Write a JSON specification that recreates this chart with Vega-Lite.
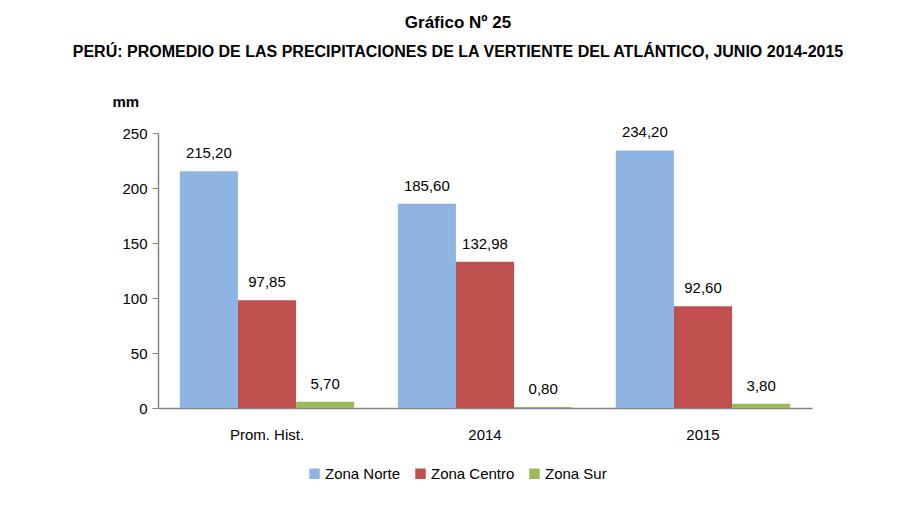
{
  "$schema": "https://vega.github.io/schema/vega-lite/v6.json",
  "autosize": "none",
  "width": 654,
  "height": 275,
  "padding": {"left": 158, "top": 133, "right": 105, "bottom": 116},
  "background": "white",
  "title": {
    "text": "Gráfico Nº 25",
    "subtitle": "PERÚ: PROMEDIO DE LAS PRECIPITACIONES DE LA VERTIENTE DEL ATLÁNTICO, JUNIO 2014-2015",
    "anchor": "middle",
    "dx": -27,
    "offset": 33,
    "fontSize": 17,
    "fontWeight": "bold",
    "subtitleFontSize": 16,
    "subtitleFontWeight": "bold",
    "subtitleColor": "black",
    "color": "black",
    "subtitlePadding": 12
  },
  "config": {
    "font": "Liberation Sans",
    "view": {"stroke": null},
    "locale": {"number": {"decimal": ",", "thousands": ".", "grouping": [3], "currency": ["", ""]}}
  },
  "data": {
    "values": [
      {"periodo": "Prom. Hist.", "zona": "Zona Norte", "valor": 215.2},
      {"periodo": "Prom. Hist.", "zona": "Zona Centro", "valor": 97.85},
      {"periodo": "Prom. Hist.", "zona": "Zona Sur", "valor": 5.7},
      {"periodo": "2014", "zona": "Zona Norte", "valor": 185.6},
      {"periodo": "2014", "zona": "Zona Centro", "valor": 132.98},
      {"periodo": "2014", "zona": "Zona Sur", "valor": 0.8},
      {"periodo": "2015", "zona": "Zona Norte", "valor": 234.2},
      {"periodo": "2015", "zona": "Zona Centro", "valor": 92.6},
      {"periodo": "2015", "zona": "Zona Sur", "valor": 3.8}
    ]
  },
  "encoding": {
    "x": {
      "field": "periodo", "type": "nominal", "sort": ["Prom. Hist.", "2014", "2015"],
      "scale": {"paddingInner": 0.2, "paddingOuter": 0.1},
      "axis": {"title": null, "labelAngle": 0, "ticks": false, "domainColor": "#868686", "domainWidth": 1.5, "labelFontSize": 15, "labelPadding": 19, "labelColor": "black"}
    },
    "xOffset": {"field": "zona", "type": "nominal", "sort": ["Zona Norte", "Zona Centro", "Zona Sur"], "scale": {"paddingInner": 0, "paddingOuter": 0}},
    "y": {
      "field": "valor", "type": "quantitative",
      "scale": {"domain": [0, 250], "nice": false},
      "axis": {"title": "mm", "titleAngle": 0, "titleX": -46, "titleY": -24, "titleFontSize": 15, "titleFontWeight": "bold", "titleColor": "black", "titleAlign": "left", "values": [0, 50, 100, 150, 200, 250], "grid": false, "domainColor": "#868686", "domainWidth": 1.5, "tickColor": "#868686", "tickSize": 6, "labelFontSize": 15, "labelPadding": 5, "labelColor": "black"}
    }
  },
  "layer": [
    {
      "mark": {"type": "bar"},
      "encoding": {
        "color": {
          "field": "zona", "type": "nominal", "sort": ["Zona Norte", "Zona Centro", "Zona Sur"],
          "scale": {"domain": ["Zona Norte", "Zona Centro", "Zona Sur"], "range": ["#8EB4E3", "#C0504D", "#9BBB59"]},
          "legend": {"title": null, "orient": "none", "direction": "horizontal", "legendX": 149, "legendY": 333, "symbolType": "square", "symbolSize": 110, "symbolStrokeWidth": 0, "labelFontSize": 15, "labelColor": "black", "labelOffset": 3, "columnPadding": 12}
        }
      }
    },
    {
      "mark": {"type": "text", "baseline": "bottom", "dy": -10, "fontSize": 15, "color": "black"},
      "encoding": {
        "text": {"field": "valor", "type": "quantitative", "format": ".2f"}
      }
    }
  ]
}
